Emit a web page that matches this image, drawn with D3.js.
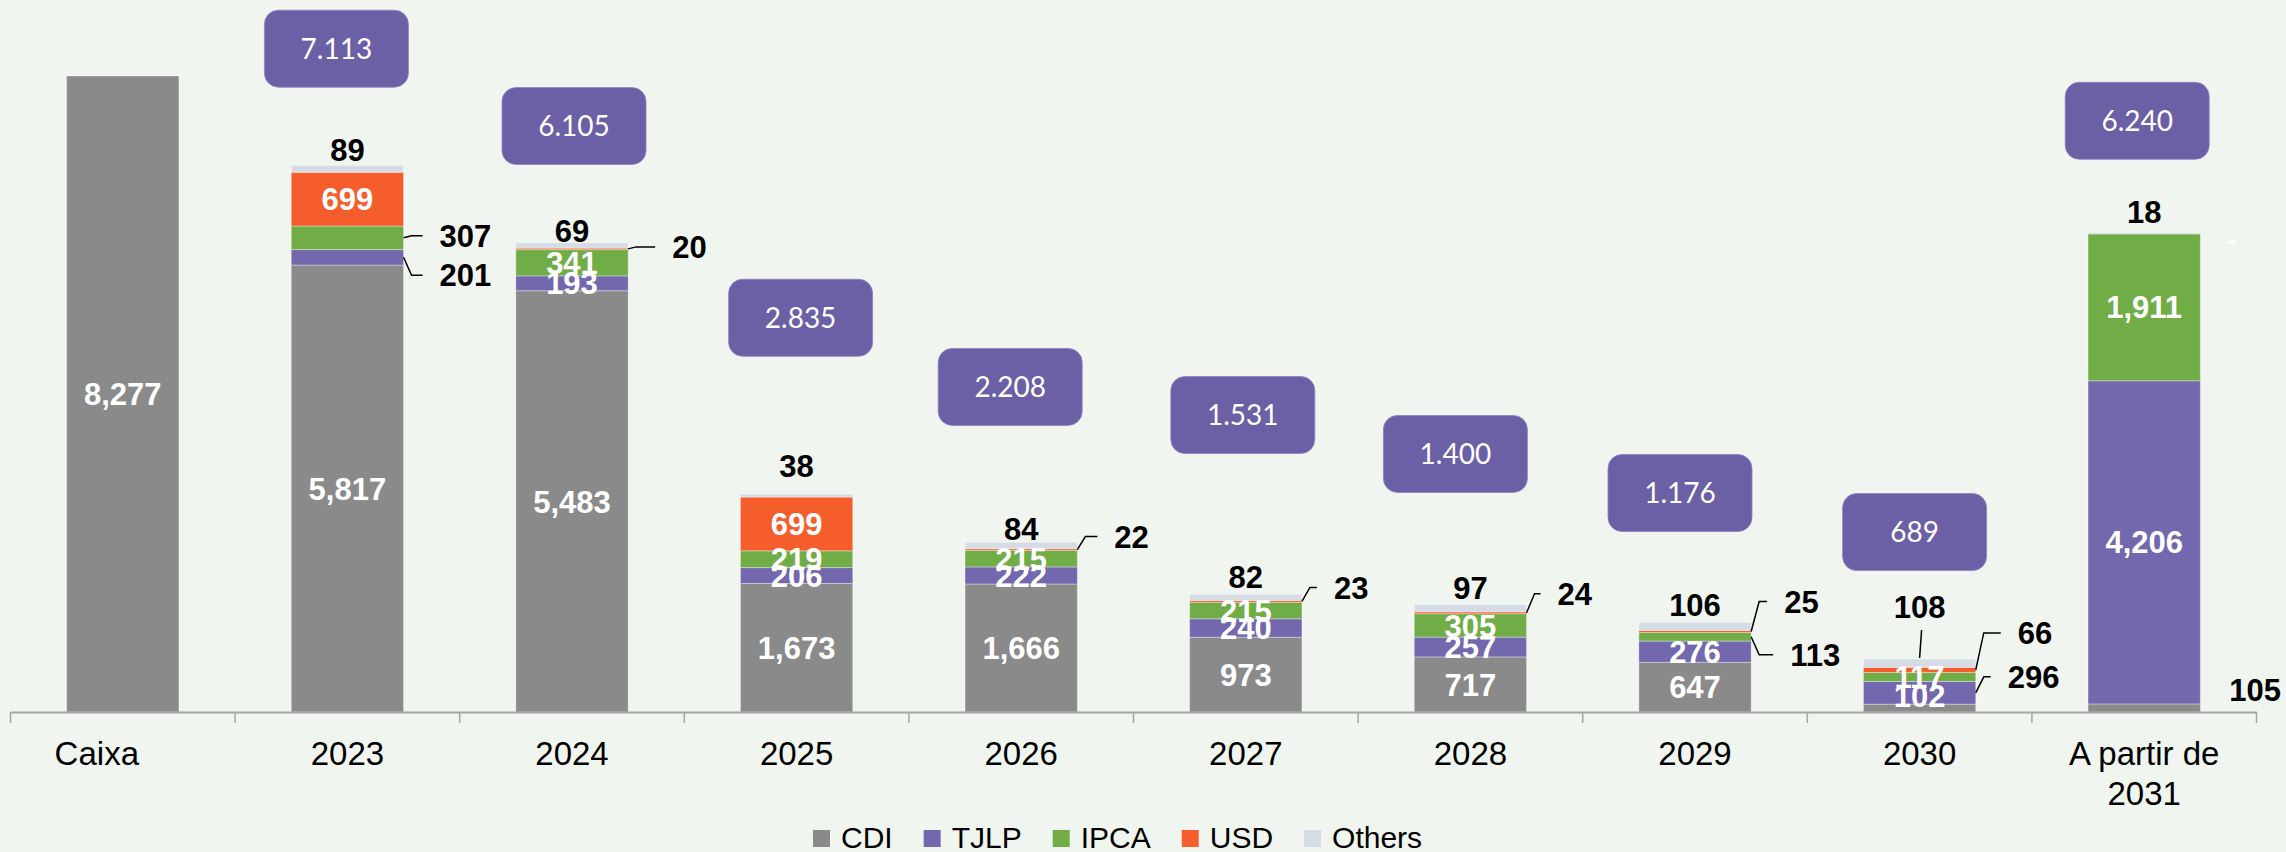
<!DOCTYPE html>
<html><head><meta charset="utf-8">
<script src="https://cdn.jsdelivr.net/npm/d3@7"></script>
<style>
html,body{margin:0;padding:0;background:#F1F5EF;}
svg{display:block;}
</style></head><body>
<svg id="chart" width="2286" height="852"></svg>
<script>
// ---------------- DATA ----------------
const categories = ["Caixa","2023","2024","2025","2026","2027","2028","2029","2030","A partir de 2031"];
const seriesNames = ["CDI","TJLP","IPCA","USD","Others"];
const cdi    = [8277, 5817, 5483, 1673, 1666, 973, 717, 647, 102, 105];
const tjlp   = [0, 201, 193, 206, 222, 240, 257, 276, 296, 4206];
const ipca   = [0, 307, 341, 219, 215, 215, 305, 113, 117, 1911];
const usd    = [0, 699, 20, 699, 22, 23, 24, 25, 66, 0];
const others = [0, 89, 69, 38, 84, 82, 97, 106, 108, 18];
const totals = [null, 7113, 6105, 2835, 2208, 1531, 1400, 1176, 689, 6240];

// ---------------- LAYOUT (annotation placement) ----------------
const boxLevel = [null, 8632, 7626, 5131, 4230, 3865, 3358, 2850, 2342, 7694]; // box centre, in data units
const boxDx    = [0, -11, 2, 4, -11, -3, -15, -15, -5, -7];
const topGap   = [0, 16, 12, 28, 13, 17, 17, 17, 52, 21];
const tickDx   = {"Caixa": -26};
const topLeaderCats = ["2030"];
const outLabels = [
  {cat:"2023", s:"TJLP", dx:36, dy:18},
  {cat:"2023", s:"IPCA", dx:36, dy:-2},
  {cat:"2024", s:"USD",  dx:44, dy:-2},
  {cat:"2026", s:"USD",  dx:37, dy:-13},
  {cat:"2027", s:"USD",  dx:32, dy:-14},
  {cat:"2028", s:"USD",  dx:31, dy:-19},
  {cat:"2029", s:"USD",  dx:33, dy:-30},
  {cat:"2029", s:"IPCA", dx:39, dy:18},
  {cat:"2030", s:"USD",  dx:42, dy:-37},
  {cat:"2030", s:"TJLP", dx:32, dy:-16},
  {cat:"A partir de 2031", s:"CDI", dx:29, dy:-18, noLeader:true},
  {cat:"A partir de 2031", s:"USD", dx:26, dy:5, noLeader:true, white:true}
];
const inNudge = {"2030|CDI": -12};

const colors = {CDI:"#8A8A8A", TJLP:"#7367AE", IPCA:"#70AD47", USD:"#F55E2C", Others:"#D6DCE5"};
const boxColor = "#6B5FA6";
const numFont = "'Liberation Sans', Arial, Helvetica, sans-serif";
const boxFont = "Lato, 'Open Sans', sans-serif";

// ---------------- CHART ----------------
const svg = d3.select("#chart");
const W = 2286, H = 852;
svg.append("rect").attr("width", W).attr("height", H).attr("fill", "#F1F5EF");

const rows = categories.map((c, i) => ({cat:c, CDI:cdi[i], TJLP:tjlp[i], IPCA:ipca[i], USD:usd[i], Others:others[i]}));
const stacked = d3.stack().keys(seriesNames)(rows);

const x = d3.scaleBand().domain(categories).range([10.5, 2256.5]).paddingInner(0.5).paddingOuter(0.25);
const y = d3.scaleLinear().domain([0, 9000]).range([712, 712 - 636 * 9000 / 8277]);
const bw = x.bandwidth();

const fmtSeg = d3.format(",");
const ptBR = d3.formatLocale({decimal:",", thousands:".", grouping:[3], currency:["R$",""]});
const fmtTot = ptBR.format(",");

// bars
const gBars = svg.append("g");
stacked.forEach(layer => {
  gBars.selectAll(null).data(layer.filter(d => d[1] - d[0] > 0)).join("rect")
    .attr("x", d => x(d.data.cat))
    .attr("y", d => y(d[1]))
    .attr("width", bw)
    .attr("height", d => y(d[0]) - y(d[1]))
    .attr("fill", colors[layer.key])
    .attr("stroke", "rgba(255,255,255,0.35)")
    .attr("stroke-width", 1);
});

// axis
const axis = d3.axisBottom(x).tickSize(0).tickSizeOuter(0).tickPadding(0);
const gAxis = svg.append("g").attr("transform", "translate(0,712)").call(axis);
gAxis.select(".domain").attr("stroke", "#A6A6A6").attr("stroke-width", 2);
const boundaries = categories.map(c => x(c) - x.step() * x.paddingInner() / 2)
  .concat([x(categories[categories.length - 1]) + bw + x.step() * x.paddingInner() / 2]);
gAxis.selectAll(".bound").data(boundaries).join("line")
  .attr("x1", d => d).attr("x2", d => d).attr("y1", 0).attr("y2", 11)
  .attr("stroke", "#A6A6A6").attr("stroke-width", 1.5);
gAxis.selectAll(".tick text").each(function(d) {
  const t = d3.select(this);
  t.text(null).attr("dy", null).attr("y", null)
   .attr("font-family", numFont).attr("font-size", 33).attr("fill", "#000");
  const lines = d.startsWith("A partir") ? ["A partir de", "2031"] : [d];
  const dx = tickDx[d] || 0;
  lines.forEach((ln, k) => t.append("tspan").attr("x", dx).attr("y", 53 + k * 40).text(ln));
});

// total boxes
const gBox = svg.append("g");
categories.forEach((c, i) => {
  if (totals[i] == null) return;
  const cx = x(c) + bw / 2 + boxDx[i];
  const cy = y(boxLevel[i]);
  gBox.append("rect").attr("x", cx - 72).attr("y", cy - 38.5).attr("width", 144).attr("height", 77)
    .attr("rx", 14).attr("fill", boxColor).attr("stroke", "#8D84C2").attr("stroke-width", 0.8);
  gBox.append("text").attr("x", cx).attr("y", cy).attr("dy", "0.36em").attr("text-anchor", "middle")
    .attr("font-family", boxFont).attr("font-size", 28).attr("fill", "#fff").text(fmtTot(totals[i]));
});

// segment labels
const gLab = svg.append("g").attr("font-family", numFont).attr("font-weight", "bold").attr("font-size", 31);
stacked.forEach(layer => {
  const s = layer.key;
  layer.forEach((d, i) => {
    const c = d.data.cat;
    const v = d.data[s];
    const top = y(d[1]), bot = y(d[0]);
    const segC = (top + bot) / 2;
    const left = x(c), right = left + bw, cx = left + bw / 2;
    const out = outLabels.find(o => o.cat === c && o.s === s);
    const txt = v === 0 ? "-" : fmtSeg(v);
    if (out) {
      const ly = segC + out.dy, tx = right + out.dx;
      if (!out.noLeader) {
        gLab.append("path")
          .attr("d", d3.line()([[right, segC], [right + 8, ly], [tx - 17, ly]]))
          .attr("fill", "none").attr("stroke", "#000").attr("stroke-width", 1.5);
      }
      gLab.append("text").attr("x", tx).attr("y", ly).attr("dy", "0.36em")
        .attr("fill", out.white ? "#fff" : "#000").text(txt);
    } else if (v > 0 && s === "Others") {
      const ly = top - topGap[i];
      if (topLeaderCats.includes(c)) {
        gLab.append("line").attr("x1", cx).attr("y1", top - 1).attr("x2", cx + 2).attr("y2", top - 29)
          .attr("stroke", "#000").attr("stroke-width", 1.5);
      }
      gLab.append("text").attr("x", cx).attr("y", ly).attr("dy", "0.36em").attr("text-anchor", "middle")
        .attr("fill", "#000").text(txt);
    } else if (v > 0) {
      const ly = segC + (inNudge[c + "|" + s] || 0);
      gLab.append("text").attr("x", cx).attr("y", ly).attr("dy", "0.36em").attr("text-anchor", "middle")
        .attr("fill", "#fff").text(txt);
    }
  });
});

// legend
const gLeg = svg.append("g").attr("font-family", numFont).attr("font-size", 30);
let lx = 813;
seriesNames.forEach(s => {
  gLeg.append("rect").attr("x", lx).attr("y", 830).attr("width", 17).attr("height", 17).attr("fill", colors[s]);
  const t = gLeg.append("text").attr("x", lx + 28).attr("y", 848).attr("fill", "#000").text(s);
  lx = lx + 28 + t.node().getComputedTextLength() + 31;
});
</script>
</body></html>
